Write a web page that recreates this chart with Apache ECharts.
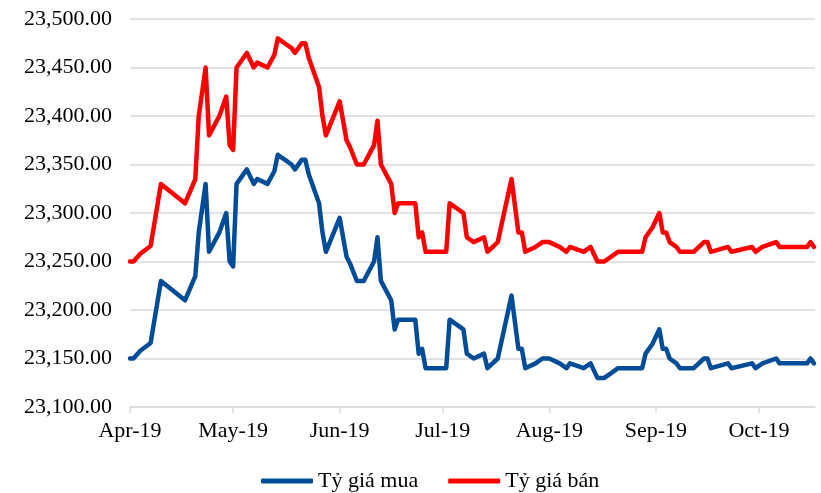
<!DOCTYPE html>
<html>
<head>
<meta charset="utf-8">
<script src="https://cdn.jsdelivr.net/npm/echarts@6/dist/echarts.min.js"></script>
<style>
    html, body { margin: 0; padding: 0; background: #fff; }
    #chart { width: 821px; height: 493px; }
</style>
</head>
<body>
<div id="chart"></div>
<script>
// ngày (điểm gãy của đường)
var dates = [
    '2019-04-01','2019-04-02','2019-04-04','2019-04-07','2019-04-10','2019-04-17','2019-04-20','2019-04-21',
    '2019-04-23','2019-04-24','2019-04-27','2019-04-29','2019-04-30','2019-05-01','2019-05-02','2019-05-05',
    '2019-05-07','2019-05-08','2019-05-11','2019-05-13','2019-05-14','2019-05-16','2019-05-18','2019-05-19',
    '2019-05-21','2019-05-22','2019-05-23','2019-05-26','2019-05-27','2019-05-28','2019-06-01','2019-06-03',
    '2019-06-04','2019-06-06','2019-06-08','2019-06-11','2019-06-12','2019-06-13','2019-06-16','2019-06-17',
    '2019-06-18','2019-06-23','2019-06-24','2019-06-25','2019-06-26','2019-07-02','2019-07-03','2019-07-07',
    '2019-07-08','2019-07-10','2019-07-13','2019-07-14','2019-07-17','2019-07-21','2019-07-23','2019-07-24',
    '2019-07-25','2019-07-28','2019-07-30','2019-08-01','2019-08-04','2019-08-06','2019-08-07','2019-08-11',
    '2019-08-13','2019-08-15','2019-08-17','2019-08-19','2019-08-21','2019-08-28','2019-08-29','2019-08-31',
    '2019-09-02','2019-09-03','2019-09-04','2019-09-05','2019-09-07','2019-09-08','2019-09-12','2019-09-15',
    '2019-09-16','2019-09-17','2019-09-22','2019-09-23','2019-09-29','2019-09-30','2019-10-02','2019-10-06',
    '2019-10-07','2019-10-15','2019-10-16','2019-10-17'
];

// Tỷ giá mua
var buyRate = [
    23150,23150,23158,23166,23230,23210,23235,23280,
    23330,23260,23280,23300,23250,23245,23330,23345,
    23330,23335,23330,23343,23360,23355,23350,23345,
    23355,23355,23340,23310,23280,23260,23295,23255,
    23248,23230,23230,23250,23275,23230,23210,23180,
    23190,23190,23155,23160,23140,23140,23190,23180,
    23155,23150,23155,23140,23150,23215,23160,23160,
    23140,23145,23150,23150,23145,23140,23145,23140,
    23145,23130,23130,23135,23140,23140,23155,23165,
    23180,23160,23160,23150,23145,23140,23140,23150,
    23150,23140,23145,23140,23145,23140,23145,23150,
    23145,23145,23150,23145
];

// Tỷ giá bán
var sellRate = [
    23250,23250,23258,23266,23330,23310,23335,23400,
    23450,23380,23400,23420,23370,23365,23450,23465,
    23450,23455,23450,23463,23480,23475,23470,23465,
    23475,23475,23460,23430,23400,23380,23415,23375,
    23368,23350,23350,23370,23395,23350,23330,23300,
    23310,23310,23275,23280,23260,23260,23310,23300,
    23275,23270,23275,23260,23270,23335,23280,23280,
    23260,23265,23270,23270,23265,23260,23265,23260,
    23265,23250,23250,23255,23260,23260,23275,23285,
    23300,23280,23280,23270,23265,23260,23260,23270,
    23270,23260,23265,23260,23265,23260,23265,23270,
    23265,23265,23270,23265
];

var monthTicks = ['2019-04-01','2019-05-01','2019-06-01','2019-07-01','2019-08-01','2019-09-01','2019-10-01'];
var monthLabels = ['Apr-19','May-19','Jun-19','Jul-19','Aug-19','Sep-19','Oct-19'];

var fontName = '"Liberation Serif", "DejaVu Serif", serif';

// ngày -> số ngày kể từ 01/04/2019
var DAY = 24 * 3600 * 1000;
var start = Date.UTC(2019, 3, 1);
function toDay(s) {
    var p = s.split('-');
    return Math.round((Date.UTC(+p[0], +p[1] - 1, +p[2]) - start) / DAY);
}

var tickDays = monthTicks.map(toDay);

function fmtNum(v) {
    var s = v.toFixed(2);
    var parts = s.split('.');
    parts[0] = parts[0].replace(/\B(?=(\d{3})+(?!\d))/g, ',');
    return parts.join('.');
}

var chart = echarts.init(document.getElementById('chart'));

chart.setOption({
    animation: false,
    backgroundColor: '#fff',
    grid: { left: 130, right: 6, top: 19, bottom: 86 },
    legend: {
        bottom: -4,
        left: 256,
        itemWidth: 52,
        itemHeight: 5,
        itemGap: 30,
        icon: 'roundRect',
        textStyle: { fontFamily: fontName, fontSize: 22, color: '#000' },
        data: ['Tỷ giá mua', 'Tỷ giá bán']
    },
    xAxis: {
        type: 'value',
        min: 0,
        max: 199.3,
        axisLine: { lineStyle: { color: '#d9d9d9', width: 1.5 } },
        axisTick: {
            show: true,
            length: 6,
            customValues: tickDays,
            lineStyle: { color: '#d9d9d9', width: 1.5 }
        },
        axisLabel: {
            customValues: tickDays,
            fontFamily: fontName,
            fontSize: 22,
            color: '#000',
            margin: 13,
            formatter: function (v) {
                var i = tickDays.indexOf(v);
                return i >= 0 ? monthLabels[i] : '';
            }
        },
        splitLine: { show: false }
    },
    yAxis: {
        type: 'value',
        min: 23100,
        max: 23500,
        interval: 50,
        axisLine: { show: false },
        axisTick: { show: false },
        axisLabel: {
            fontFamily: fontName,
            fontSize: 22,
            color: '#000',
            margin: 18,
            formatter: fmtNum
        },
        splitLine: { lineStyle: { color: '#d9d9d9', width: 1.5 } }
    },
    series: [
        {
            name: 'Tỷ giá mua',
            type: 'line',
            symbol: 'none',
            color: '#004c97',
            lineStyle: { width: 4.5, color: '#004c97', join: 'round', cap: 'round' },
            data: dates.map(function (d, i) { return [toDay(d), buyRate[i]]; })
        },
        {
            name: 'Tỷ giá bán',
            type: 'line',
            symbol: 'none',
            color: '#ff0000',
            lineStyle: { width: 4.5, color: '#ff0000', join: 'round', cap: 'round' },
            data: dates.map(function (d, i) { return [toDay(d), sellRate[i]]; })
        }
    ]
});
</script>
</body>
</html>
